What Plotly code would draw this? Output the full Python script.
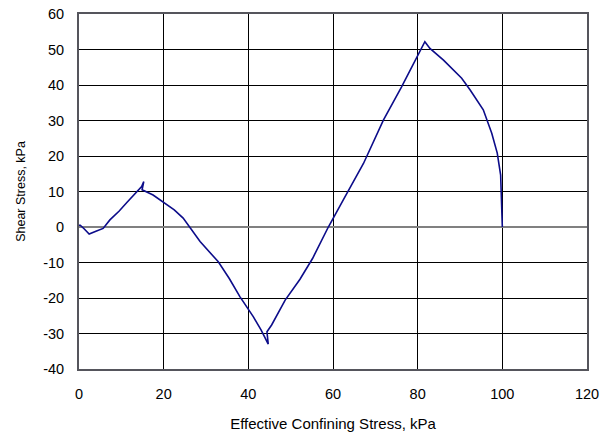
import plotly.graph_objects as go

# Effective confining stress (kPa) and shear stress (kPa)
confining_stress = [0.0, 0.3, 1.2, 2.4, 4.0, 5.7, 7.3, 9.5, 11.3, 13.2, 14.8, 15.3, 14.9,
                    17.5, 19.9, 22.5, 24.6, 26.5, 28.6, 32.9, 35.5, 38.0, 41.2, 43.0, 44.7,
                    44.4, 45.5, 48.7, 52.2, 55.2, 58.9, 62.4, 67.2, 71.9, 76.2, 81.7,
                    82.9, 86.1, 90.4, 92.4, 95.5, 97.5, 98.8, 99.6, 99.8, 100.0]
shear_stress = [0.5, 0.5, -0.5, -2.0, -1.2, -0.4, 2.0, 4.5, 6.9, 9.3, 11.4, 12.8, 10.5,
                9.0, 7.1, 4.8, 2.5, -0.6, -4.1, -9.8, -14.5, -19.6, -25.3, -29.0, -33.0,
                -29.5, -27.6, -20.6, -14.7, -8.8, 0.0, 7.6, 17.9, 30.1, 39.5, 52.2,
                50.3, 47.0, 41.9, 38.6, 33.0, 26.4, 20.8, 14.6, 9.5, 0.0]

x_ticks = [0, 20, 40, 60, 80, 100, 120]
y_ticks = [-40, -30, -20, -10, 0, 10, 20, 30, 40, 50, 60]
y_tick_labels = ["-40", "-30", "-20", "-10", "0", "10", "20", "30", "40", "50", "60"]

x_title = "Effective Confining Stress, kPa"
y_title = "Shear Stress, kPa"

fig = go.Figure()
fig.add_trace(go.Scatter(x=confining_stress, y=shear_stress, mode="lines",
                         line=dict(color="#0c0c8a", width=1.6), showlegend=False))

font_family = "Liberation Sans, Arial, sans-serif"
fig.update_layout(
    width=614, height=434,
    margin=dict(l=79, r=27, t=14, b=65),
    paper_bgcolor="white", plot_bgcolor="white",
    font=dict(family=font_family, color="black", size=14),
)
fig.update_xaxes(
    range=[0, 120], tickvals=x_ticks, ticktext=[str(v) for v in x_ticks],
    showgrid=True, gridcolor="black", gridwidth=1,
    showline=True, mirror=True, linecolor="#55555c", linewidth=2,
    zeroline=False, automargin=False, ticklabeloverflow="allow",
    ticks="outside", ticklen=11, tickcolor="rgba(0,0,0,0)",
    tickfont=dict(size=14.5),
    title=dict(text=x_title, font=dict(size=15), standoff=17),
)
fig.update_yaxes(
    range=[-40, 60], tickvals=y_ticks, ticktext=y_tick_labels,
    showgrid=True, gridcolor="black", gridwidth=1,
    showline=True, mirror=True, linecolor="#55555c", linewidth=2,
    zeroline=True, zerolinecolor="#808080", zerolinewidth=1.5,
    automargin=False, ticklabeloverflow="allow",
    ticks="outside", ticklen=10, tickcolor="rgba(0,0,0,0)",
    tickfont=dict(size=14.5),
    title=dict(text=y_title, font=dict(size=12.5), standoff=15),
)

fig.write_html("out.html",
               config={"displayModeBar": False},
               post_script="document.body.style.margin='0';document.body.style.overflow='hidden';")
